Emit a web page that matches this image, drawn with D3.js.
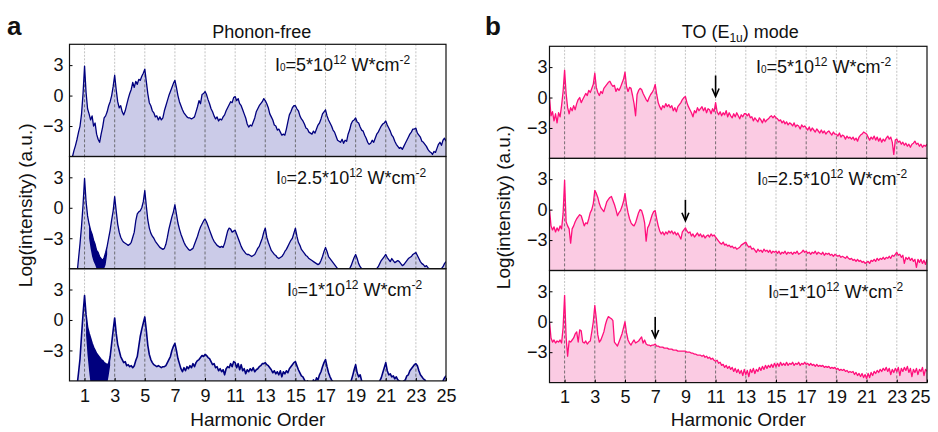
<!DOCTYPE html>
<html lang="en">
<head>
<meta charset="utf-8">
<title>HHG spectra</title>
<script src="https://cdn.jsdelivr.net/npm/d3@7"></script>
<style>
body { margin: 0; background: #fff; }
text { font-family: "Liberation Sans", Arial, sans-serif; fill: #111; }
</style>
</head>
<body>
<div id="chart"></div>
<script>
// harmonic order is sampled every 0.1 from 0 to 25
var orderStep = 0.1;
var tickOrders = [1, 3, 5, 7, 9, 11, 13, 15, 17, 19, 21, 23, 25];
var gridOrders = [1, 3, 5, 7, 9, 11, 13, 15, 17, 19, 21, 23];
var yTicks = [3, 0, -3];
var intensities = ["5", "2.5", "1"];

// panel a: phonon-free, log(intensity) for I0 = 5, 2.5, 1 (x10^12 W/cm2)
var phononFree5 = [
  -7,-7,-6.0,-5.4,-4.9,-4.3,-3.6,-3.0,-1.8,0.2,
  2.9,0.3,-1.3,-1.8,-2.4,-2.0,-3.0,-2.7,-3.8,-4.3,
  -4.6,-3.8,-3.1,-2.2,-2.0,-1.6,-1.0,-0.6,0.0,0.9,
  2.0,0.6,-0.6,-1.2,-1.0,-1.6,-1.9,-1.5,-0.9,-0.3,
  0.2,0.6,1.3,0.8,1.4,1.1,1.6,1.5,1.9,2.2,
  2.6,1.4,0.2,-0.7,-1.0,-1.5,-1.7,-2.1,-2.0,-2.4,
  -2.1,-2.4,-2.2,-1.5,-1.0,-0.5,0.0,0.4,0.8,1.2,
  1.5,0.8,0.0,-0.6,-1.0,-1.4,-1.7,-1.9,-2.1,-2.2,
  -2.2,-2.3,-2.2,-2.1,-1.6,-1.1,-0.5,-0.8,0.1,0.2,
  0.4,0.1,-0.4,-0.8,-1.3,-1.6,-2.0,-2.3,-2.1,-2.5,
  -2.3,-2.4,-2.1,-1.9,-1.5,-1.2,-0.9,-0.6,-0.7,-0.2,
  -0.1,-0.5,-0.3,-0.8,-1.0,-1.4,-1.8,-2.2,-2.8,-3.1,
  -2.9,-3.0,-2.6,-2.2,-1.6,-1.3,-1.0,-0.8,-0.6,-0.3,
  -0.5,-0.8,-1.2,-1.8,-2.1,-2.4,-2.9,-3.0,-3.4,-3.3,
  -3.6,-3.9,-3.8,-3.9,-3.3,-2.6,-1.9,-1.6,-1.2,-1.0,
  -1.0,-1.3,-1.5,-2.0,-2.3,-2.5,-2.8,-3.2,-3.3,-3.6,
  -3.7,-3.8,-3.5,-3.7,-3.3,-2.9,-2.7,-2.3,-1.8,-1.6,
  -1.4,-2.0,-2.4,-2.7,-3.0,-3.4,-3.6,-4.0,-4.4,-4.5,
  -4.6,-4.3,-4.7,-4.4,-4.5,-3.8,-3.4,-2.8,-2.5,-2.4,
  -2.2,-2.6,-2.7,-3.1,-3.4,-3.5,-3.9,-4.2,-4.6,-4.8,
  -4.7,-4.4,-4.6,-4.2,-3.8,-3.6,-3.3,-3.0,-2.8,-2.7,
  -2.5,-2.9,-3.2,-3.5,-3.9,-4.1,-4.5,-4.8,-5.0,-5.2,
  -5.1,-5.3,-5.0,-4.7,-4.4,-4.1,-3.8,-3.6,-3.3,-3.3,
  -3.2,-3.7,-3.9,-4.1,-4.5,-4.6,-4.8,-5.0,-5.3,-5.5,
  -5.6,-5.8,-5.5,-5.6,-5.2,-4.8,-4.6,-4.9,-4.4,-4.2,
  -4.5
];
var phononFree25 = [
  -7,-7,-7,-7,-7,-6.5,-5.0,-3.5,-1.8,0.3,
  2.9,0.6,-0.8,-1.6,-2.2,-2.6,-3.2,-3.6,-4.2,-4.4,
  -4.8,-5.0,-5.2,-4.9,-4.4,-3.8,-3.0,-2.2,-1.2,-0.3,
  1.1,-0.3,-1.6,-2.4,-2.9,-3.2,-3.4,-3.5,-3.6,-3.7,
  -3.6,-3.4,-2.9,-2.4,-1.3,-0.6,-0.4,-0.3,0.0,0.6,
  1.7,0.2,-1.2,-2.0,-2.5,-2.8,-3.0,-3.3,-3.5,-3.7,
  -3.9,-4.0,-4.1,-4.0,-3.6,-2.9,-2.1,-1.5,-0.9,-0.4,
  0.3,-0.6,-1.5,-2.1,-2.6,-3.0,-3.4,-3.7,-3.9,-4.1,
  -4.2,-4.1,-4.0,-3.6,-3.2,-2.8,-2.3,-1.9,-1.6,-1.3,
  -1.1,-1.4,-1.8,-2.2,-2.6,-3.0,-3.3,-3.5,-3.7,-3.8,
  -3.9,-3.8,-3.9,-3.5,-2.9,-2.3,-2.0,-2.1,-2.4,-2.3,
  -2.2,-2.6,-3.0,-3.4,-3.8,-4.1,-4.3,-4.5,-4.6,-4.6,
  -4.7,-4.8,-4.7,-4.6,-4.3,-4.0,-3.8,-3.4,-3.0,-2.4,
  -2.0,-2.9,-3.4,-3.8,-4.2,-4.4,-4.6,-4.7,-4.9,-5.0,
  -4.9,-4.8,-4.6,-4.3,-4.1,-3.8,-3.5,-3.2,-3.0,-2.5,
  -2.0,-2.8,-3.4,-3.7,-4.1,-4.3,-4.5,-4.7,-4.8,-5.0,
  -5.1,-5.2,-5.3,-5.4,-5.5,-5.6,-5.5,-5.2,-4.8,-4.3,
  -3.9,-4.3,-4.8,-5.0,-5.2,-5.4,-5.6,-5.8,-6.0,-6.2,
  -6.3,-6.3,-6.2,-6.3,-6.2,-6.2,-6.0,-5.7,-5.3,-4.9,
  -4.6,-5.0,-5.5,-5.8,-6.0,-6.2,-6.3,-6.3,-6.2,-6.3,
  -6.3,-6.2,-6.3,-6.2,-6.0,-5.8,-5.5,-5.2,-5.0,-4.8,
  -4.6,-4.9,-5.1,-5.3,-5.0,-5.2,-5.4,-5.3,-5.2,-5.3,
  -5.5,-5.7,-5.6,-5.4,-5.2,-5.0,-4.9,-4.8,-4.6,-4.5,
  -4.4,-4.7,-5.0,-5.3,-5.5,-5.6,-5.8,-5.7,-5.9,-6.0,
  -6.1,-6.2,-6.3,-6.2,-6.3,-6.3,-6.2,-6.0,-5.8,-5.5,
  -5.3
];
var phononFree1 = [
  -7,-7,-7,-7,-7,-6.5,-5.2,-3.8,-1.5,0.6,
  2.4,0.5,-0.7,-1.3,-1.8,-2.3,-2.7,-3.0,-3.3,-3.5,
  -3.7,-3.9,-4.0,-4.2,-4.3,-4.4,-4.3,-3.6,-2.3,-1.0,
  0.2,-1.3,-2.4,-3.0,-3.6,-3.9,-4.2,-4.1,-4.5,-4.4,
  -4.6,-4.5,-4.7,-4.5,-4.0,-3.6,-2.6,-1.6,-0.9,-0.3,
  0.3,-1.0,-2.5,-3.4,-3.9,-4.2,-4.4,-4.5,-4.6,-4.5,
  -4.6,-4.7,-4.6,-4.6,-4.5,-4.2,-3.9,-3.6,-3.0,-2.6,
  -2.3,-3.0,-3.8,-4.3,-4.8,-5.1,-4.7,-5.0,-4.6,-4.8,
  -4.5,-4.7,-4.3,-4.6,-4.2,-4.0,-3.9,-3.7,-3.5,-3.6,
  -3.4,-3.5,-3.7,-3.8,-4.1,-4.4,-4.3,-4.7,-4.6,-5.0,
  -4.8,-5.1,-4.9,-5.4,-4.8,-4.6,-4.7,-4.3,-4.6,-4.1,
  -4.2,-4.7,-4.3,-4.9,-4.4,-5.0,-4.8,-5.3,-4.9,-5.1,
  -4.8,-5.0,-4.7,-5.1,-4.9,-4.8,-4.6,-4.5,-4.3,-4.3,
  -4.2,-4.4,-4.5,-4.7,-4.9,-5.2,-5.0,-5.3,-5.1,-5.4,
  -5.0,-5.6,-5.1,-5.3,-5.0,-5.2,-4.8,-4.6,-4.4,-4.2,
  -4.1,-4.5,-4.9,-5.2,-5.5,-5.6,-5.9,-6.2,-6.0,-6.3,
  -6.2,-6.3,-5.9,-6.2,-5.7,-5.9,-5.4,-5.1,-4.6,-4.2,
  -3.9,-4.6,-5.2,-5.6,-5.9,-6.1,-6.3,-6.3,-6.2,-6.3,
  -6.3,-6.3,-6.3,-6.3,-6.3,-6.3,-6.2,-6.0,-5.5,-4.9,
  -4.4,-5.2,-5.6,-5.4,-6.0,-6.2,-6.3,-6.3,-6.3,-6.3,
  -6.3,-6.3,-6.3,-6.3,-6.3,-6.2,-6.0,-5.7,-5.2,-4.7,
  -4.2,-5.0,-5.4,-5.3,-5.6,-5.5,-5.8,-5.6,-5.9,-6.0,
  -6.1,-6.2,-6.0,-5.9,-5.5,-5.4,-5.0,-4.8,-4.6,-4.4,
  -4.3,-4.5,-5.0,-5.4,-5.6,-5.8,-5.9,-6.2,-6.3,-6.3,
  -6.3,-6.3,-6.3,-6.3,-6.3,-6.3,-6.3,-6.2,-6.0,-5.7,
  -5.5
];
// lower edge of the dense noise band just above the fundamental
var bandStarts = [null, 1.3, 1.1];
var phononFree25BandLow = [-3.0,-4.0,-4.8,-5.3,-5.6,-6.0,-6.0,-6.0,-6.0,-6.0,-6.0,-5.6,-4.6];
var phononFree1BandLow = [-1.5,-3.5,-5.0,-6.3,-6.3,-6.3,-6.3,-6.3,-6.3,-6.3,-6.3,-6.3,-6.3,-6.3,-6.3,-5.5,-4.5];

// panel b: TO (E1u) mode
var toMode5 = [
  0.0,-1.8,-1.4,-2.3,-1.6,-2.5,-1.5,-1.9,-0.8,0.6,
  2.7,0.4,-1.0,-1.6,-1.0,-1.3,-0.8,-1.2,-0.6,-0.2,
  0.0,-0.5,-0.2,0.1,0.4,0.2,0.7,0.5,0.9,1.3,
  2.4,1.0,0.5,0.2,0.6,0.4,0.9,1.1,1.3,1.5,
  1.6,1.3,1.1,1.2,0.6,0.9,0.7,1.0,1.4,1.8,
  2.5,1.1,0.6,1.0,0.9,0.2,-0.6,-1.8,0.3,0.7,
  0.9,0.8,0.4,0.1,-0.2,-0.4,0.0,0.3,0.5,0.8,
  1.3,0.3,-0.5,-0.9,-1.2,-0.8,-1.0,-0.6,-0.9,-0.7,
  -1.0,-0.8,-1.3,-1.0,-1.4,-0.9,-0.7,-0.5,-0.2,0.0,
  0.1,-0.5,-0.9,-1.2,-1.5,-1.9,-1.3,-1.5,-1.0,-1.3,
  -1.1,-0.9,-1.3,-1.0,-1.5,-1.1,-1.2,-1.6,-1.1,-1.4,
  -0.5,-1.4,-1.7,-1.4,-1.8,-1.5,-1.7,-1.3,-1.9,-1.5,
  -1.8,-2.0,-1.6,-1.9,-1.5,-1.8,-2.1,-1.7,-1.9,-1.6,
  -1.6,-1.8,-1.6,-2.0,-1.9,-2.3,-2.0,-2.2,-2.4,-2.0,
  -2.2,-2.5,-2.1,-2.4,-2.2,-2.1,-1.9,-1.8,-2.0,-1.8,
  -2.0,-2.1,-2.3,-2.2,-2.5,-2.3,-2.6,-2.4,-2.7,-2.5,
  -2.6,-2.8,-2.5,-2.9,-2.7,-2.8,-3.1,-2.7,-2.9,-2.8,
  -3.0,-3.2,-2.9,-3.3,-3.0,-3.2,-3.4,-3.1,-3.3,-3.5,
  -3.2,-3.5,-3.3,-3.6,-3.4,-3.3,-3.5,-3.7,-3.4,-3.6,
  -3.6,-3.8,-3.5,-3.9,-3.7,-3.8,-4.1,-3.8,-4.0,-3.9,
  -4.1,-3.9,-4.2,-4.0,-4.3,-3.9,-3.7,-3.6,-3.4,-3.5,
  -3.6,-3.9,-4.2,-3.9,-4.1,-3.8,-4.2,-3.9,-4.3,-4.0,
  -4.4,-4.1,-4.3,-4.0,-3.8,-4.1,-3.9,-4.4,-5.6,-4.2,
  -4.1,-4.4,-4.3,-4.6,-4.4,-4.7,-4.5,-4.8,-4.6,-4.9,
  -4.6,-4.5,-4.3,-4.6,-4.5,-4.8,-4.6,-4.9,-4.7,-4.8,
  -4.6
];
var toMode25 = [
  0.0,-1.6,-2.0,-1.7,-2.2,-1.8,-2.1,-1.6,-1.9,-0.4,
  2.9,-1.2,-1.6,-1.9,-3.3,-1.9,-1.6,-1.2,-0.9,-0.7,
  -0.5,-0.6,-1.1,-1.6,-1.3,-1.4,-0.9,-0.3,0.0,0.6,
  1.9,1.6,1.2,0.6,0.2,0.0,-0.2,0.3,0.8,1.0,
  1.2,1.3,0.9,0.5,0.0,-0.6,-0.3,-0.1,0.3,0.8,
  1.6,0.5,-0.3,-0.9,-1.3,-1.5,-1.6,-1.3,-0.8,-0.3,
  0.0,-0.1,-0.6,-1.3,-3.1,-1.8,-1.5,-1.0,-0.5,-0.2,
  -0.1,-0.9,-1.6,-2.1,-2.4,-2.2,-2.5,-2.2,-2.4,-2.1,
  -2.3,-2.1,-2.4,-2.2,-2.5,-2.3,-2.6,-2.9,-2.2,-2.0,
  -1.8,-2.1,-2.3,-2.2,-2.6,-2.4,-2.7,-2.5,-2.3,-2.6,
  -2.4,-2.7,-2.5,-2.8,-2.6,-2.5,-2.7,-2.4,-2.6,-2.5,
  -2.7,-2.9,-3.1,-3.3,-3.4,-3.2,-3.5,-3.4,-3.6,-3.5,
  -3.7,-3.6,-3.8,-3.7,-3.9,-3.8,-3.7,-3.5,-3.4,-3.3,
  -3.2,-3.5,-3.7,-3.6,-3.9,-3.8,-4.0,-4.2,-3.9,-4.1,
  -4.0,-4.2,-3.9,-4.1,-4.0,-4.2,-4.0,-4.3,-4.1,-4.2,
  -4.1,-4.3,-4.1,-4.4,-4.2,-4.3,-4.1,-4.4,-4.2,-4.3,
  -4.2,-4.4,-4.2,-4.3,-4.1,-4.4,-4.3,-4.2,-4.0,-4.2,
  -4.1,-4.3,-4.2,-4.4,-4.2,-4.3,-4.1,-4.4,-4.2,-4.3,
  -4.4,-4.2,-4.5,-4.3,-4.4,-4.3,-4.5,-4.4,-4.6,-4.4,
  -4.5,-4.6,-4.5,-4.7,-4.6,-4.7,-4.8,-4.6,-4.8,-4.9,
  -4.8,-5.0,-4.9,-5.1,-4.9,-5.1,-5.0,-5.2,-5.1,-5.3,
  -5.2,-5.1,-5.3,-5.0,-5.1,-4.9,-5.1,-4.8,-5.0,-4.8,
  -4.9,-4.7,-4.9,-4.7,-4.8,-4.6,-4.8,-4.5,-4.6,-4.4,
  -4.2,-4.5,-4.4,-4.7,-4.5,-5.3,-4.7,-4.9,-4.7,-5.0,
  -4.8,-5.1,-4.9,-5.7,-4.9,-5.2,-4.9,-5.3,-5.0,-5.4,
  -4.9
];
var toMode1 = [
  0.0,-1.6,-2.0,-1.8,-2.1,-1.9,-2.0,-1.8,-2.1,-0.6,
  2.6,-1.5,-3.4,-1.9,-2.0,-1.8,-1.6,-1.2,-1.0,-2.0,
  -0.8,-0.9,-2.0,-2.1,-1.9,-2.2,-2.0,-1.9,-1.0,0.0,
  1.6,0.3,-1.3,-2.0,-1.8,-1.4,-1.0,-0.3,0.2,0.5,
  0.4,0.3,0.1,-2.0,-2.2,-2.4,-2.0,-1.6,-1.2,-0.6,
  0.0,-1.1,-1.8,-2.1,-2.3,-2.0,-1.8,-2.1,-2.0,-1.9,
  -1.7,-1.5,-2.1,-1.8,-2.2,-2.3,-2.3,-2.4,-2.3,-2.3,
  -2.2,-2.4,-2.4,-2.5,-2.5,-2.5,-2.6,-2.6,-2.6,-2.7,
  -2.7,-2.7,-2.8,-2.8,-2.8,-2.9,-2.9,-2.9,-2.9,-2.9,
  -2.9,-3.0,-3.0,-3.0,-3.1,-3.1,-3.2,-3.2,-3.3,-3.3,
  -3.3,-3.4,-3.3,-3.5,-3.4,-3.6,-3.5,-3.7,-3.6,-3.8,
  -3.9,-3.8,-4.1,-4.0,-4.3,-4.2,-4.5,-4.3,-4.6,-4.4,
  -4.7,-4.5,-4.9,-4.6,-5.0,-4.7,-5.1,-4.8,-5.3,-4.7,
  -5.2,-4.8,-5.4,-4.7,-5.0,-4.6,-5.1,-4.7,-4.9,-4.5,
  -4.8,-4.4,-4.7,-4.3,-4.6,-4.3,-4.5,-4.2,-4.5,-4.1,
  -4.4,-4.1,-4.4,-4.0,-4.3,-4.1,-4.3,-4.0,-4.3,-4.1,
  -4.2,-4.0,-4.3,-4.1,-4.2,-4.0,-4.3,-4.1,-4.2,-4.0,
  -4.2,-4.1,-4.3,-4.1,-4.3,-4.2,-4.4,-4.2,-4.4,-4.3,
  -4.4,-4.3,-4.5,-4.4,-4.5,-4.4,-4.6,-4.5,-4.6,-4.5,
  -4.7,-4.6,-4.8,-4.7,-4.8,-4.7,-4.9,-4.8,-5.0,-4.9,
  -5.0,-4.9,-5.2,-5.0,-5.3,-5.1,-5.4,-5.1,-5.5,-5.2,
  -5.6,-5.1,-5.5,-5.0,-5.3,-4.9,-5.1,-4.8,-5.0,-4.7,
  -4.9,-4.6,-4.8,-4.5,-4.9,-4.6,-5.2,-4.7,-5.0,-4.6,
  -4.9,-4.5,-5.3,-4.6,-4.9,-4.5,-4.8,-4.4,-5.0,-4.6,
  -5.4,-4.7,-5.0,-4.6,-5.2,-4.7,-4.9,-4.5,-5.3,-4.7,
  -4.9
];

// arrows in panel b mark a harmonic in each row
var arrowOrders = [11, 9, 7];
var arrowTipValues = [0.1, -1.1, -1.6];

var svg = d3.select("#chart").append("svg")
    .attr("width", 938)
    .attr("height", 432);

var panels = [
    { key: "a", title: "Phonon-free", left: 69.5, right: 446, top: 44.3, rowH: 112.2,
      series: [phononFree5, phononFree25, phononFree1],
      bands: [null, phononFree25BandLow, phononFree1BandLow],
      line: "#00007e", fill: "#cbcbe8", tickPad: 6, letterX: 7, yLabelX: 32 },
    { key: "b", title: "TO (E", left: 549.5, right: 927, top: 46.3, rowH: 112.1,
      series: [toMode5, toMode25, toMode1],
      bands: [null, null, null],
      line: "#ff0f7b", fill: "#fbcbe3", tickPad: 2, letterX: 485, yLabelX: 510 }
];
var labelOffsets = [171, 170, 159];

panels.forEach(function(p, pi) {
    var x = d3.scaleLinear().domain([0, 25]).range([p.left, p.right]);

    // panel letter and title
    svg.append("text")
        .attr("x", p.letterX).attr("y", 35)
        .attr("font-size", "26px").attr("font-weight", "bold")
        .text(p.key);

    var title = svg.append("text")
        .attr("x", (p.left + p.right) / 2 + (pi == 0 ? 4 : 2)).attr("y", 38)
        .attr("text-anchor", "middle").attr("font-size", "18px")
        .text(p.title);
    if (pi == 1) {
        title.append("tspan").attr("font-size", "12px").attr("dy", 4).text("1u");
        title.append("tspan").attr("dy", -4).text(") mode");
    }

    p.series.forEach(function(values, ri) {
        var top = p.top + ri * p.rowH;
        var bottom = top + p.rowH;
        var y = d3.scaleLinear().domain([-6.0, 5.05]).range([bottom, top]);
        var data = values.map(function(v, i) { return { order: i * orderStep, value: v }; });
        var clipId = "clip-" + p.key + ri;
        var areaClipId = "area-" + p.key + ri;

        var area = d3.area()
            .x(function(d) { return x(d.order); })
            .y0(bottom)
            .y1(function(d) { return y(d.value); });
        var line = d3.line()
            .x(function(d) { return x(d.order); })
            .y(function(d) { return y(d.value); });

        svg.append("clipPath").attr("id", clipId)
            .append("rect")
            .attr("x", p.left).attr("y", top)
            .attr("width", p.right - p.left).attr("height", p.rowH);
        svg.append("clipPath").attr("id", areaClipId)
            .append("path").attr("d", area(data));

        var g = svg.append("g").attr("clip-path", "url(#" + clipId + ")");

        // light grid above the curve
        g.selectAll(".gridLight").data(gridOrders).enter().append("line")
            .attr("x1", function(d) { return x(d); })
            .attr("x2", function(d) { return x(d); })
            .attr("y1", top).attr("y2", bottom)
            .style("stroke", "#b4b4b4")
            .style("stroke-width", 0.8)
            .style("stroke-dasharray", "2,1.5");

        g.append("path").datum(data)
            .attr("d", area)
            .style("fill", p.fill)
            .style("stroke", "none");

        // darker grid inside the filled area
        g.append("g").attr("clip-path", "url(#" + areaClipId + ")")
            .selectAll("line").data(gridOrders).enter().append("line")
            .attr("x1", function(d) { return x(d); })
            .attr("x2", function(d) { return x(d); })
            .attr("y1", top).attr("y2", bottom)
            .style("stroke", "#555")
            .style("stroke-width", 0.8)
            .style("stroke-dasharray", "3,2");

        // dense noise band (drawn as a solid band in the line colour)
        var low = p.bands[ri];
        if (low) {
            var i0 = Math.round(bandStarts[ri] / orderStep);
            var bandData = low.map(function(v, k) {
                return { order: (i0 + k) * orderStep, value: values[i0 + k], low: v };
            });
            g.append("path").datum(bandData)
                .attr("d", d3.area()
                    .x(function(d) { return x(d.order); })
                    .y0(function(d) { return y(d.low); })
                    .y1(function(d) { return y(d.value); }))
                .style("fill", p.line)
                .style("stroke", "none");
        }

        g.append("path").datum(data)
            .attr("d", line)
            .style("fill", "none")
            .style("stroke", p.line)
            .style("stroke-width", pi == 0 && ri == 2 ? 1.6 : 1.3)
            .style("stroke-linejoin", "round");

        // left axis with inward ticks
        var yAxis = svg.append("g")
            .attr("transform", "translate(" + p.left + ",0)")
            .call(d3.axisLeft(y).tickValues(yTicks).tickSizeInner(-3).tickSizeOuter(0).tickPadding(p.tickPad));
        yAxis.select(".domain").remove();
        yAxis.selectAll("line").style("stroke", "#000");
        yAxis.selectAll("text")
            .attr("font-size", "18px")
            .attr("font-family", "Liberation Sans, Arial, sans-serif")
            .style("fill", "#111");

        // frame
        svg.append("rect")
            .attr("x", p.left).attr("y", top)
            .attr("width", p.right - p.left).attr("height", p.rowH)
            .style("fill", "none").style("stroke", "#111").style("stroke-width", 1.2);

        // intensity label
        var lab = svg.append("text")
            .attr("x", p.right - labelOffsets[ri]).attr("y", top + 27)
            .attr("font-size", "18px");
        lab.append("tspan").text("I");
        lab.append("tspan").attr("font-size", "10px").text("0");
        lab.append("tspan").text("=" + intensities[ri] + "*10");
        lab.append("tspan").attr("font-size", "12px").attr("dy", -7).text("12");
        lab.append("tspan").attr("dy", 7).text(" W*cm");
        lab.append("tspan").attr("font-size", "12px").attr("dy", -7).text("-2");

        if (pi == 1) {
            var ax = x(arrowOrders[ri]);
            var tip = y(arrowTipValues[ri]);
            svg.append("line")
                .attr("x1", ax).attr("x2", ax)
                .attr("y1", tip - 21).attr("y2", tip - 1)
                .style("stroke", "#000").style("stroke-width", 1.6);
            svg.append("path")
                .attr("d", "M" + (ax - 3.5) + "," + (tip - 8) + "L" + ax + "," + tip + "L" + (ax + 3.5) + "," + (tip - 8))
                .style("fill", "none").style("stroke", "#000").style("stroke-width", 1.6);
        }

        if (ri == 2) {
            var xAxis = svg.append("g")
                .attr("transform", "translate(0," + bottom + ")")
                .call(d3.axisBottom(x).tickValues(tickOrders).tickSizeInner(-3).tickSizeOuter(0).tickPadding(8));
            xAxis.select(".domain").remove();
            xAxis.selectAll("line").style("stroke", "#000");
            xAxis.selectAll("text")
                .attr("font-size", "18px")
                .attr("font-family", "Liberation Sans, Arial, sans-serif")
                .style("fill", "#111");
            if (pi == 1) {
                xAxis.selectAll("text").filter(function(d) { return d == 25; }).attr("dx", -7);
            }
            svg.append("text")
                .attr("x", (p.left + p.right) / 2).attr("y", 426)
                .attr("text-anchor", "middle").attr("font-size", "19px")
                .text("Harmonic Order");
        }
    });

    svg.append("text")
        .attr("transform", "translate(" + p.yLabelX + "," + (p.top + 161) + ") rotate(-90)")
        .attr("text-anchor", "middle").attr("font-size", "19px")
        .text("Log(intensity) (a.u.)");
});
</script>
</body>
</html>
